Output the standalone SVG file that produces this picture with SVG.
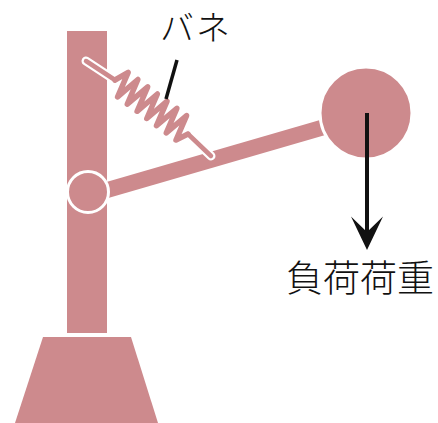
<svg xmlns="http://www.w3.org/2000/svg" width="438" height="423" viewBox="0 0 438 423">
  <style>
    .part { fill: #cd8a8d; }
    .ring { fill: #cd8a8d; stroke: #ffffff; stroke-width: 3; }
    .arm { stroke: #cd8a8d; stroke-width: 16; fill: none; }
    .outline { stroke: #ffffff; stroke-width: 9; fill: none; stroke-linecap: round; stroke-linejoin: round; }
    .rod { stroke: #cd8a8d; stroke-width: 4.5; fill: none; stroke-linecap: round; stroke-linejoin: round; }
    .coil { stroke: #cd8a8d; stroke-width: 5.5; fill: none; stroke-linecap: round; stroke-linejoin: round; }
    .label { font-family: "Noto Sans CJK JP", "Noto Sans", sans-serif; fill: #111111; font-weight: 300; }
  </style>

  <!-- stand: post and base -->
  <g id="post">
    <rect class="part" x="67" y="31" width="40" height="302"/>
  </g>
  <g id="base">
    <polygon class="part" points="43,337 131,337 158,423 15,423"/>
  </g>

  <!-- lever arm from pivot to load -->
  <g id="arm">
    <line class="arm" x1="88" y1="195.6" x2="330" y2="125.4"/>
  </g>

  <g id="pivot">
    <circle class="ring" cx="88" cy="192" r="20.5"/>
  </g>

  <!-- spring between post and arm: white halo first, then rod ends and coil -->
  <g id="spring">
    <polyline class="outline" points="86,61 115,80 128.2,72.3 117.6,96.9 137.9,79.5 127.3,104.1 147.7,86.8 137.1,111.3 157.4,94 146.8,118.5 167.1,101.2 156.5,125.7 176.9,108.4 166.3,132.9 186.6,115.6 176,140.1 188,134 211,156"/>
    <polyline class="rod" points="86,61 115,80"/>
    <polyline class="rod" points="188,134 211,156"/>
    <polyline class="coil" points="115,80 128.2,72.3 117.6,96.9 137.9,79.5 127.3,104.1 147.7,86.8 137.1,111.3 157.4,94 146.8,118.5 167.1,101.2 156.5,125.7 176.9,108.4 166.3,132.9 186.6,115.6 176,140.1 188,134"/>
  </g>

  <g id="load">
    <circle class="ring" cx="366" cy="113" r="46"/>
  </g>

  <!-- connectors: label leader and force arrow -->
  <g id="connectors">
    <line x1="177" y1="60" x2="166" y2="99" stroke="#111111" stroke-width="3.5"/>
    <line x1="367" y1="113" x2="367" y2="236" stroke="#111111" stroke-width="4"/>
    <path d="M367,250 L351,216.5 L367,232 L383,216.5 Z" fill="#111111"/>
  </g>

  <g id="spring-label">
    <text class="label" x="160" y="39.5" font-size="34" letter-spacing="2">バネ</text>
  </g>
  <g id="load-label">
    <text class="label" x="286" y="292" font-size="37">負荷荷重</text>
  </g>
</svg>
